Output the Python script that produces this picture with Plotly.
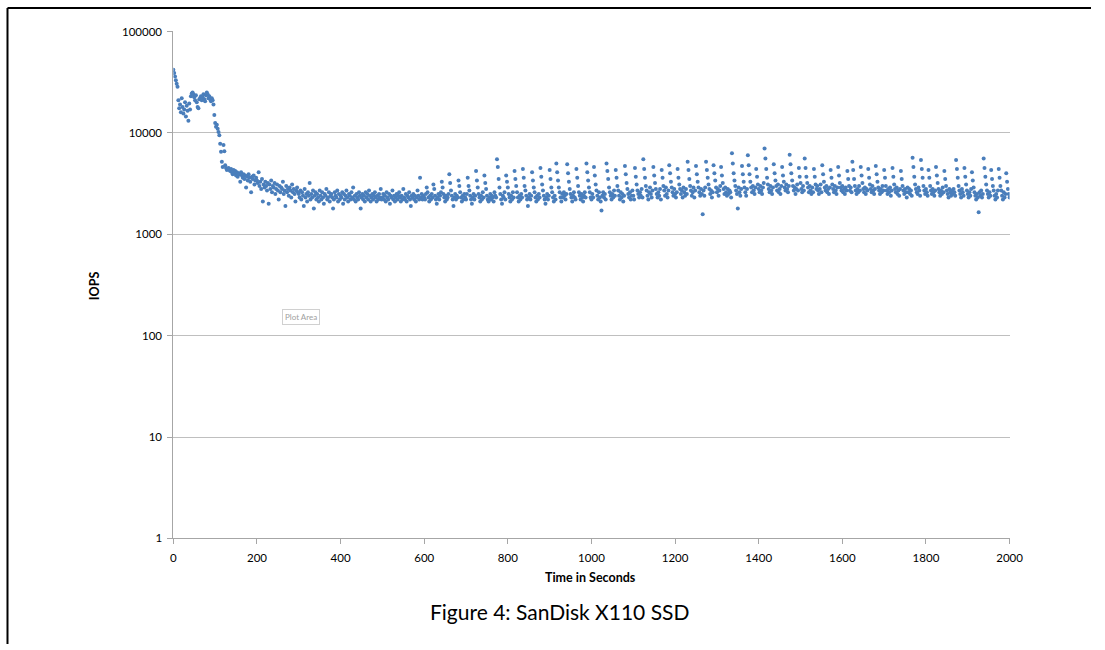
import plotly.graph_objects as go

# IOPS samples (one sample every 2 seconds), grouped by start time of each 100-s block
seg_0000 = [42000, 39000, 36000, 33000, 30500, 28500,
            21000, 17500, 19000, 16000, 22000, 18000, 15500, 17000, 20000, 14500, 18500, 16500, 13200, 19500, 17000,
            23000, 24500, 25000, 24000, 22500, 21000, 23500, 20000, 18000, 17500, 21500, 22000, 23000, 21000, 22500,
            24000, 21500, 20500, 23500, 25000, 24000, 22000, 23000, 21500, 20500, 22000, 21000,
            19000, 15000, 12500, 11500, 12000, 11000, 10200, 9500, 7800, 6500, 5200, 4600, 7600, 6600, 4800, 4500, 4300, 4400,
            4500, 4300, 4200, 4400, 4100, 3900, 4300, 4000, 4200, 3800, 4100, 3700, 4000, 3900, 3300, 4100, 3800, 3600,
            3900, 3500, 3800, 2900, 3700, 3400, 3900, 3600, 3300, 2600, 3700, 3500, 3800, 3100, 3400, 3600]
seg_0200 = [3400, 3200, 4100, 3000, 3300, 2800, 3500, 2100, 3100, 2900, 3300, 3000, 2700, 3200, 2000, 3100, 2800,
            3400, 2600, 3000, 2900, 3200, 2500, 2800, 3100, 2700, 2200, 3000, 2600, 2900, 2800, 3300, 2500, 2700,
            1900, 3000, 2600, 2800, 2400, 2900, 2700, 2300, 3100, 2600, 2800, 2500, 2100, 2700, 2900, 2600]
seg_0300 = [2500, 2300, 2700, 2200, 2600, 2400, 1900, 2800, 2300, 2500, 2100, 2600, 2400, 3200, 2200, 2500, 2300,
            2700, 1800, 2400, 2600, 2200, 2500, 2300, 2100, 2700, 2400, 2200, 2600, 2300, 2000, 2500, 2400, 2800,
            2200, 2300, 2600, 2100, 2400, 2500, 2300, 1800, 2200, 2600, 2400, 2300, 2700, 2100, 2500, 2200]
seg_0400 = [2400, 2300, 2600, 2000, 2500, 2200, 2400, 2700, 2300, 2100, 2500, 2400, 2200, 2600, 2300, 2900, 2200,
            2400, 2100, 2500, 2300, 2200, 2600, 2400, 1800, 2300, 2500, 2200, 2400, 2100, 2600, 2300, 2500, 2200,
            2700, 2400, 2100, 2300, 2500, 2200, 2400, 2600, 2300, 2100, 2400, 2200, 2500, 2300, 2800, 2200]
seg_0500 = [2300, 2500, 2200, 2400, 2100, 2600, 2300, 2200, 2500, 2000, 2400, 2300, 2700, 2200, 2400, 2100, 2300,
            2500, 2200, 2400, 2600, 2300, 2100, 2400, 2200, 2800, 2300, 2200, 2500, 2100, 2400, 2300, 2600, 2200,
            1900, 2400, 2300, 2500, 2200, 2400, 2100, 2300, 2700, 2400, 2200, 3600, 2300, 2500, 2200, 2400]
seg_0600 = [2300, 2200, 2500, 2900, 2600, 2300, 2100, 2400, 2200, 2500, 2300, 3100, 2800, 2400, 2200, 2000, 2300,
            2500, 2200, 2400, 2600, 3300, 2900, 2500, 2300, 2100, 2400, 2200, 2300, 2500, 3900, 3200, 2700, 2400,
            2200, 1900, 2300, 2500, 2200, 2400, 2300, 3400, 3000, 2600, 2300, 2100, 2400, 2200, 2500, 2300]
seg_0700 = [2200, 2500, 3600, 3000, 2700, 2400, 2200, 2000, 2300, 2500, 2200, 2400, 4200, 3400, 2900, 2500, 2300,
            2100, 2400, 2200, 2600, 2300, 3800, 3200, 2800, 2400, 2200, 2100, 2300, 2500, 2200, 2400, 2300, 2100,
            2600, 2400, 2300, 5500, 4600, 3500, 2900, 2500, 2200, 2000, 2400, 2300, 2600, 2200, 3800, 3300]
seg_0800 = [2900, 2500, 2300, 2100, 2400, 2200, 2600, 2300, 4200, 3500, 3000, 2600, 2300, 2100, 2400, 2200, 2500,
            2300, 4400, 3600, 3000, 2700, 2400, 2200, 1900, 2300, 2500, 2200, 2400, 4100, 3400, 2900, 2600, 2300,
            2100, 2400, 2200, 2500, 2300, 4500, 3700, 3100, 2700, 2400, 2200, 2000, 2300, 2500, 2200, 2400]
seg_0900 = [4300, 3500, 2900, 2600, 2300, 2100, 2400, 2200, 5000, 4100, 3400, 2900, 2600, 2300, 2100, 2500, 2300,
            2600, 2400, 2200, 2500, 4900, 4000, 3300, 2800, 2500, 2300, 2100, 2400, 2600, 2300, 2200, 4400, 3600,
            3000, 2600, 2400, 2200, 2500, 2300, 2100, 2400, 2600, 2300, 5000, 4100, 3400, 2900, 2600, 2300]
seg_1000 = [2200, 2500, 2300, 4600, 3800, 3100, 2700, 2400, 2200, 2600, 2300, 2100, 1720, 2400, 2600, 2300, 2500,
            2200, 5000, 4200, 3500, 2900, 2600, 2400, 2200, 2500, 2300, 2700, 2400, 4300, 3600, 3000, 2700, 2400,
            2200, 2600, 2300, 2500, 2100, 2400, 4700, 3900, 3200, 2800, 2500, 2300, 2600, 2200, 2400, 2700]
seg_1100 = [2400, 2200, 4500, 3700, 3100, 2700, 2500, 2300, 2600, 2400, 2800, 2300, 5500, 4400, 3600, 3000, 2700,
            2400, 2200, 2600, 2900, 2500, 2300, 2700, 4600, 3800, 3200, 2800, 2500, 2300, 2600, 2400, 2800, 2200,
            4300, 3600, 3000, 2700, 2400, 2900, 2500, 2300, 2700, 4800, 4000, 3300, 2900, 2600, 2400, 2800]
seg_1200 = [2500, 2300, 2600, 4400, 3600, 3100, 2800, 2500, 2700, 2300, 2900, 2600, 2400, 2800, 2500, 5200, 4300,
            3500, 3000, 2700, 2400, 2600, 2900, 2300, 2700, 4700, 3900, 3300, 2900, 2600, 2400, 2800, 2500, 1580,
            2700, 2400, 2900, 5200, 4300, 3600, 3100, 2800, 2500, 2700, 2300, 2600, 4800, 4000, 3400, 2900]
seg_1300 = [2600, 2800, 2400, 2700, 3000, 4600, 3800, 3200, 2800, 2500, 2900, 2600, 2400, 2800, 2500, 2700, 2600,
            2300, 6300, 5000, 4000, 3400, 3000, 2700, 2500, 1800, 2900, 2600, 2400, 2800, 4700, 3900, 3300, 2900,
            2600, 2400, 2800, 6000, 4800, 3900, 3300, 2900, 2600, 3000, 2700, 2500, 2900, 4400, 3700, 3100]
seg_1400 = [2800, 2600, 3000, 2700, 2500, 2900, 3200, 7000, 5600, 4400, 3600, 3100, 2800, 2600, 3000, 2700, 2500,
            2900, 4900, 4000, 3400, 3000, 2700, 3100, 2600, 2800, 2500, 3000, 4600, 3800, 3300, 2900, 2700, 3100,
            2800, 2600, 3000, 6100, 4900, 4000, 3400, 3000, 2700, 2900, 2500, 2800, 3100, 2700, 4500, 3700]
seg_1500 = [3200, 2800, 2600, 3000, 2700, 5600, 4500, 3700, 3200, 2900, 2600, 3000, 2700, 2500, 2900, 2600, 4400,
            3700, 3100, 2800, 3000, 2700, 2500, 2800, 3100, 2600, 4800, 3900, 3300, 2900, 2700, 3000, 2600, 2800,
            2500, 2900, 4300, 3600, 3100, 2800, 2600, 3000, 2700, 2500, 2900, 4600, 3800, 3200, 2900, 2700]
seg_1600 = [3000, 2600, 2800, 2500, 2900, 2700, 4200, 3500, 3000, 2700, 2900, 2600, 5200, 4300, 3500, 3000, 2700,
            2500, 2800, 2600, 3000, 2700, 4600, 3800, 3200, 2800, 2600, 2900, 2500, 2800, 2700, 4400, 3600, 3100,
            2800, 2600, 3000, 2700, 2500, 2800, 4700, 3900, 3300, 2900, 2700, 2500, 2800, 2600, 3000, 2700]
seg_1700 = [4300, 3600, 3000, 2700, 2500, 2800, 2600, 2900, 2400, 2700, 4500, 3700, 3100, 2800, 2600, 2900, 2500,
            2700, 2400, 2800, 4200, 3500, 3000, 2700, 2500, 2800, 2600, 2300, 2900, 2600, 2800, 2500, 2700, 2400,
            5700, 4600, 3700, 3100, 2800, 2600, 2500, 2900, 2700, 2400, 5400, 4400, 3600, 3000, 2700, 2500]
seg_1800 = [2800, 2600, 2400, 4300, 3600, 3000, 2700, 2500, 2800, 2600, 2400, 2700, 4600, 3800, 3200, 2800, 2600,
            2400, 2700, 2500, 2900, 2600, 4200, 3500, 3000, 2700, 2500, 2300, 2800, 2600, 2400, 2700, 2500, 2800,
            2600, 2400, 5400, 4400, 3600, 3000, 2700, 2500, 2300, 2800, 2600, 2400, 4500, 3700, 3100, 2700]
seg_1900 = [2500, 2300, 2600, 2400, 2800, 4100, 3400, 2900, 2600, 2400, 2200, 2500, 2300, 1650, 2600, 2400, 2700,
            2300, 2500, 5600, 4500, 3700, 3100, 2700, 2500, 2300, 2600, 2400, 4300, 3500, 3000, 2700, 2400, 2200,
            2500, 2300, 2700, 4400, 3600, 3000, 2700, 2400, 2200, 2600, 2300, 2500, 4000, 3300, 2800, 2500, 2300]

segments = [(0, seg_0000), (200, seg_0200), (300, seg_0300), (400, seg_0400), (500, seg_0500),
            (600, seg_0600), (700, seg_0700), (800, seg_0800), (900, seg_0900), (1000, seg_1000),
            (1100, seg_1100), (1200, seg_1200), (1300, seg_1300), (1400, seg_1400), (1500, seg_1500),
            (1600, seg_1600), (1700, seg_1700), (1800, seg_1800), (1900, seg_1900)]

SAMPLE_STEP = 2
seconds, iops = [], []
for start, vals in segments:
    for k, v in enumerate(vals):
        seconds.append(start + SAMPLE_STEP * k)
        iops.append(v)

x_ticks = list(range(0, 2001, 200))
y_ticks = [1, 10, 100, 1000, 10000, 100000]
y_tick_labels = ["1", "10", "100", "1000", "10000", "100000"]

W, H = 1105, 650
# The captured page comes out slightly shrunk and shifted; target positions are
# given as they should appear on the picture and mapped back to figure pixels.
SX, OX = 0.9855, 2.5
SY, OY = 0.981, 6.0


def px(x_shot):
    return ((x_shot - OX) / SX) / W


def py(y_shot):
    return (H - (y_shot - OY) / SY) / H


FONT = "Lato, 'Open Sans', sans-serif"
AXIS_GRAY = "#a6a6a6"

fig = go.Figure()
fig.add_trace(go.Scatter(
    x=seconds, y=iops, mode="markers",
    marker=dict(color="#4A7EBB", size=4, line=dict(width=0)),
    showlegend=False, hoverinfo="x+y",
))

fig.update_layout(
    width=W, height=H,
    margin=dict(l=0, r=0, t=0, b=0),
    paper_bgcolor="white", plot_bgcolor="white",
    font=dict(family=FONT, color="black", size=11.5),
    xaxis=dict(
        domain=[px(173), px(1010)], range=[0, 2000], tickvals=x_ticks,
        showgrid=False, zeroline=False, showline=True, linecolor=AXIS_GRAY, linewidth=1,
        ticks="outside", ticklen=5, tickcolor=AXIS_GRAY, ticklabelstandoff=4,
        tickfont=dict(size=11.5, family=FONT),
    ),
    yaxis=dict(
        domain=[py(538), py(30.5)], type="log", range=[0, 5], tickvals=y_ticks, ticktext=y_tick_labels,
        showgrid=True, gridcolor="#bfbfbf", gridwidth=1, zeroline=False,
        showline=True, linecolor=AXIS_GRAY, linewidth=1,
        ticks="outside", ticklen=5, tickcolor=AXIS_GRAY, ticklabelstandoff=3,
        tickfont=dict(size=11.5, family=FONT),
    ),
    annotations=[
        dict(text="<b>Time in Seconds</b>", x=px(591), y=py(577), xref="paper", yref="paper",
             showarrow=False, font=dict(size=12.5, family=FONT), xanchor="center", yanchor="middle"),
        dict(text="<b>IOPS</b>", x=px(94), y=py(285), xref="paper", yref="paper",
             showarrow=False, textangle=-90, font=dict(size=12.5, family=FONT),
             xanchor="center", yanchor="middle"),
        dict(text="Figure 4: SanDisk X110 SSD", x=px(560), y=py(611), xref="paper", yref="paper",
             showarrow=False, font=dict(size=21, family=FONT), xanchor="center", yanchor="middle"),
        dict(text="Plot Area", x=px(301), y=py(316), xref="paper", yref="paper",
             showarrow=False, font=dict(size=8, family=FONT, color="#a0a0a0"),
             bgcolor="white", bordercolor="#d0d0d0", borderwidth=1, borderpad=2,
             xanchor="center", yanchor="middle"),
    ],
    shapes=[
        dict(type="line", xref="paper", yref="paper", x0=px(7), x1=1, y0=py(7), y1=py(7),
             line=dict(color="black", width=2)),
        dict(type="line", xref="paper", yref="paper", x0=px(7), x1=px(7), y0=0, y1=py(7),
             line=dict(color="black", width=2)),
    ],
)

fig.write_html("out.html")
